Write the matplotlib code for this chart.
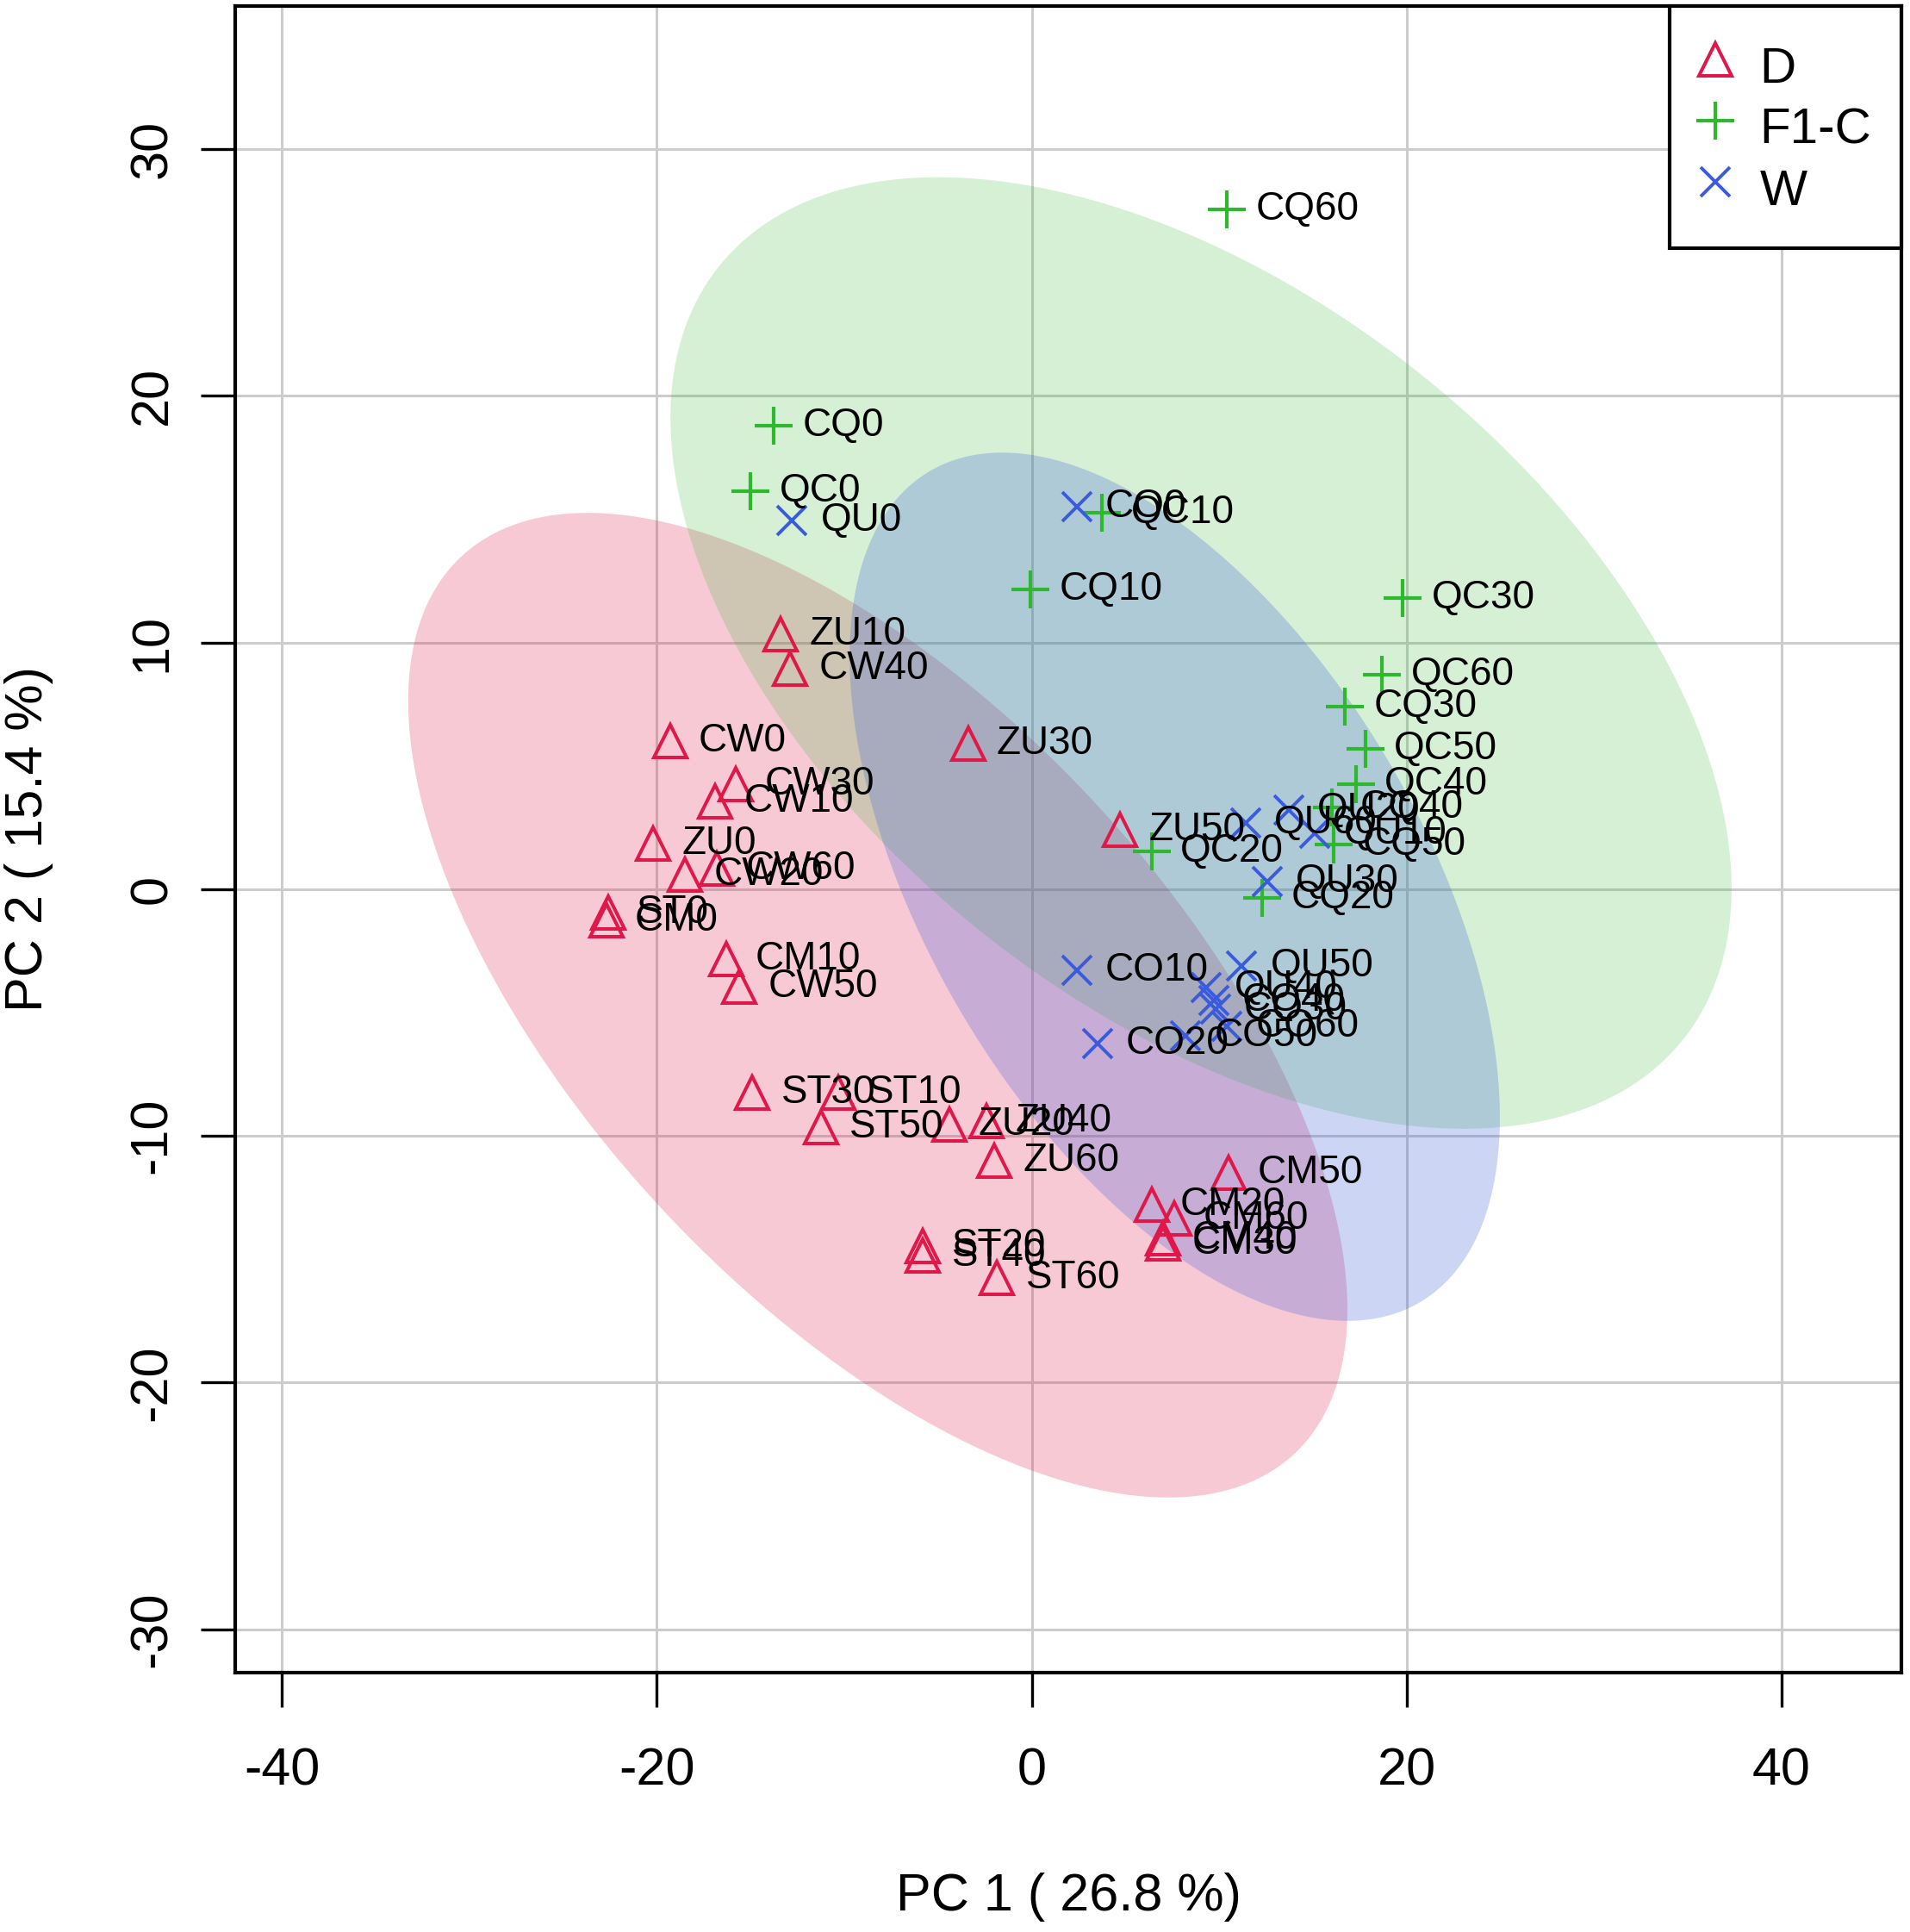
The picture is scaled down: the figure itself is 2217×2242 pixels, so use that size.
import matplotlib
matplotlib.use("Agg")
import matplotlib.pyplot as plt
import numpy as np

# scores
d_labels = ["ZU10", "CW40", "CW0", "ZU30", "CW30", "CW10", "ZU0", "CW60", "CW20",
            "ST0", "CM0", "CM10", "CW50", "ZU50", "ST30", "ST10", "ST50", "ZU20",
            "ZU40", "ZU60", "CM50", "CM20", "CM60", "CM40", "CM30", "ST20", "ST40", "ST60"]
d_pc1 = [-13.4, -12.9, -19.3, -3.4, -15.8, -16.9, -20.2, -16.8, -18.5,
         -22.6, -22.7, -16.3, -15.6, 4.7, -14.9, -10.3, -11.25, -4.4,
         -2.4, -2.0, 10.5, 6.4, 7.6, 7.0, 7.0, -5.8, -5.8, -1.85]
d_pc2 = [10.35, 8.95, 6.0, 5.9, 4.25, 3.55, 1.85, 0.85, 0.6,
         -0.95, -1.25, -2.85, -3.95, 2.4, -8.25, -8.25, -9.65, -9.55,
         -9.4, -11.0, -11.5, -12.8, -13.35, -14.15, -14.35, -14.45, -14.85, -15.75]

f_labels = ["CQ60", "CQ0", "QC0", "QC10", "CQ10", "QC30", "QC60", "CQ30",
            "QC50", "QC40", "CQ40", "CQ50", "QC20", "CQ20"]
f_pc1 = [10.4, -13.75, -15.0, 3.75, -0.05, 19.8, 18.7, 16.7, 17.8, 17.3, 16.0, 16.1, 6.4, 12.3]
f_pc2 = [27.55, 18.8, 16.15, 15.25, 12.15, 11.8, 8.7, 7.4, 5.7, 4.25, 3.3, 1.8, 1.55, -0.35]

w_labels = ["QU0", "CO0", "QU60", "QU20", "QU10", "QU30", "CO10", "QU50",
            "QU40", "CO40", "CO30", "CO60", "CO20", "CO50"]
w_pc1 = [-12.8, 2.4, 11.4, 13.7, 15.1, 12.55, 2.4, 11.2, 9.3, 9.7, 9.8, 10.4, 3.5, 8.2]
w_pc2 = [14.95, 15.5, 2.7, 3.2, 2.25, 0.3, -3.3, -3.1, -4.0, -4.5, -4.85, -5.55, -6.25, -5.95]

groups = ["D", "F1-C", "W"]
colors = ["#E0184A", "#2EB82E", "#3A5BDB"]
markers = ["^", "+", "x"]
fill_alpha = [0.23, 0.2, 0.25]

data = [(d_labels, d_pc1, d_pc2), (f_labels, f_pc1, f_pc2), (w_labels, w_pc1, w_pc2)]

font = "Liberation Sans"
plt.rcParams["font.family"] = [font, "DejaVu Sans"]
plt.rcParams["axes.unicode_minus"] = False

fig = plt.figure(figsize=(22.17, 22.42), dpi=100)
ax = fig.add_axes([0.1231, 0.1343, 0.8724, 0.8626])

# 95% confidence ellipses from each group's covariance
chi2_95 = 5.991464547
theta = np.linspace(0, 2 * np.pi, 400)
for (labs, x, y), col, a in zip(data, colors, fill_alpha):
    pts = np.column_stack([x, y])
    mu = pts.mean(axis=0)
    cov = np.cov(pts, rowvar=False)
    vals, vecs = np.linalg.eigh(cov)
    circ = np.vstack([np.cos(theta), np.sin(theta)])
    ell = (vecs @ np.diag(np.sqrt(vals * chi2_95)) @ circ).T + mu
    ax.fill(ell[:, 0], ell[:, 1], color=col, alpha=a, lw=0, zorder=1)

sizes = [27, 31, 24]
mews = [2.9, 3.0, 2.8]
for (labs, x, y), col, m, ms, mew, g in zip(data, colors, markers, sizes, mews, groups):
    if m == "^":
        ax.plot(x, y, ls="none", marker=m, ms=ms, mfc="none", mec=col, mew=mew,
                zorder=3, label=g)
    else:
        ax.plot(x, y, ls="none", marker=m, ms=ms, color=col, mew=mew, zorder=3, label=g)
    for lab, xi, yi in zip(labs, x, y):
        ax.annotate(lab, (xi, yi), xytext=(24, 0), textcoords="offset points",
                    ha="left", va="center", fontsize=33, color="black", zorder=4)

ax.set_xlim(-42.5, 46.4)
ax.set_ylim(-31.75, 35.8)
ax.set_xticks([-40, -20, 0, 20, 40])
ax.set_yticks([-30, -20, -10, 0, 10, 20, 30])
ax.set_axisbelow(True)
ax.grid(True, color="#CCCCCC", lw=2.2)
for s in ax.spines.values():
    s.set_linewidth(3.0)
    s.set_color("black")
ax.tick_params(axis="both", length=29, width=2.4, labelsize=44, direction="out")
ax.tick_params(axis="x", pad=33)
ax.tick_params(axis="y", pad=19)
for t in ax.get_yticklabels():
    t.set_rotation(90)
    t.set_va("center")

ax.set_xlabel("PC 1 ( 26.8 %)", fontsize=44)
ax.set_ylabel("PC 2 ( 15.4 %)", fontsize=44)
ax.xaxis.set_label_coords(0.5, -0.135)
ax.xaxis.label.set_va("center")
ax.yaxis.set_label_coords(-0.124, 0.5)
ax.yaxis.label.set_va("center")

leg = ax.legend(loc="upper right", borderaxespad=0, fontsize=42, fancybox=False,
                framealpha=1, edgecolor="black", handlelength=0.62, handletextpad=0.57,
                handleheight=1.45, labelspacing=0.03, borderpad=0.6, numpoints=1)
leg.get_frame().set_linewidth(3.0)

fig.savefig("out.png", dpi=100)
